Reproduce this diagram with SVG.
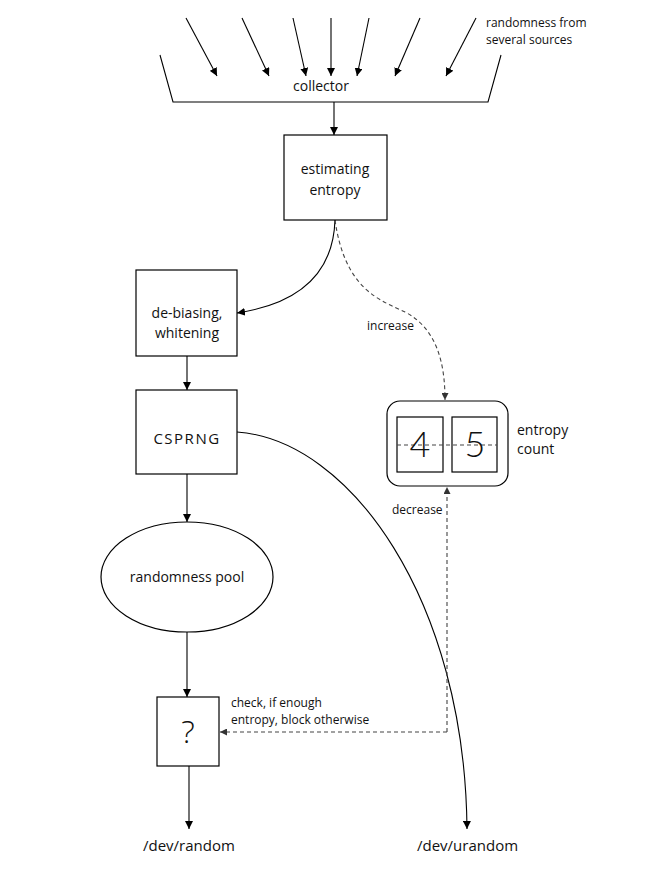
<svg xmlns="http://www.w3.org/2000/svg" width="660" height="880" viewBox="0 0 660 880">
<defs>
<marker id="ah" viewBox="0 0 10 10" refX="10" refY="5" markerWidth="8" markerHeight="8" markerUnits="userSpaceOnUse" orient="auto">
<path d="M0,0 L10,5 L0,10 z" fill="#000"/>
</marker>
<marker id="ahs" viewBox="0 0 10 10" refX="10" refY="5" markerWidth="7" markerHeight="7" markerUnits="userSpaceOnUse" orient="auto">
<path d="M0,0 L10,5 L0,10 z" fill="#333"/>
</marker>
</defs>
<style>
text{font-family:"Open Sans","DejaVu Sans",sans-serif;fill:#111}
.box{fill:#fff;stroke:#000;stroke-width:1.2}
.ln{fill:none;stroke:#000;stroke-width:1.1}
.dash{fill:none;stroke:#444;stroke-width:1.1;stroke-dasharray:4,3}
.m{font-size:14px}
.s{font-size:12px}
.dig{font-family:Lato,"Open Sans",sans-serif;font-weight:300;font-size:36px}
</style>
<rect width="660" height="880" fill="#fff"/>

<g id="connectors">
<line class="ln" x1="186" y1="18" x2="217" y2="76" marker-end="url(#ah)"/>
<line class="ln" x1="242" y1="18" x2="269" y2="76" marker-end="url(#ah)"/>
<line class="ln" x1="293" y1="18" x2="306" y2="76" marker-end="url(#ah)"/>
<line class="ln" x1="331" y1="18" x2="331" y2="76" marker-end="url(#ah)"/>
<line class="ln" x1="369" y1="18" x2="357" y2="76" marker-end="url(#ah)"/>
<line class="ln" x1="420" y1="18" x2="395" y2="76" marker-end="url(#ah)"/>
<line class="ln" x1="476" y1="18" x2="446" y2="76" marker-end="url(#ah)"/>
<line class="ln" x1="334" y1="102" x2="334" y2="135" marker-end="url(#ah)"/>
<path class="ln" d="M335,220 C333,280 290,305 237,313" marker-end="url(#ah)"/>
<path class="dash" d="M335,220 C345,290 380,300 405,312 C440,330 445,370 445,400" marker-end="url(#ahs)"/>
<line class="ln" x1="187" y1="356" x2="187" y2="390" marker-end="url(#ah)"/>
<line class="ln" x1="187" y1="474" x2="187" y2="522" marker-end="url(#ah)"/>
<line class="ln" x1="187" y1="632" x2="187" y2="697" marker-end="url(#ah)"/>
<line class="ln" x1="189" y1="766" x2="189" y2="829" marker-end="url(#ah)"/>
<path class="ln" d="M237,432 C350,440 465,600 467,829" marker-end="url(#ah)"/>
<path class="dash" d="M447,732 L447,487" marker-end="url(#ahs)"/>
<path class="dash" d="M447,732 L220,732" marker-end="url(#ahs)"/>
</g>

<g id="collector">
<path class="ln" d="M160,55 L173,102 L488,102 L501,55"/>
<text class="m" x="321" y="91" text-anchor="middle">collector</text>
</g>

<g id="sources">
<text class="s" x="486" y="27">randomness from</text>
<text class="s" x="486" y="44">several sources</text>
</g>

<g id="estimating">
<rect class="box" x="284" y="135" width="103" height="85"/>
<text class="m" x="335" y="174" text-anchor="middle">estimating</text>
<text class="m" x="335" y="195" text-anchor="middle">entropy</text>
</g>

<g id="debiasing">
<rect class="box" x="136" y="270" width="101" height="86"/>
<text class="m" x="187" y="318" text-anchor="middle">de-biasing,</text>
<text class="m" x="187" y="338" text-anchor="middle">whitening</text>
</g>

<g id="csprng">
<rect class="box" x="136" y="390" width="101" height="84"/>
<text x="187" y="444" text-anchor="middle" font-size="15" letter-spacing="1.5">CSPRNG</text>
</g>

<g id="pool">
<ellipse class="box" cx="187" cy="577" rx="86" ry="55"/>
<text class="m" x="187" y="582" text-anchor="middle">randomness pool</text>
</g>

<g id="check">
<rect class="box" x="157" y="697" width="62" height="69"/>
<text x="188" y="743" text-anchor="middle" font-size="32" font-family="Lato,sans-serif" font-weight="300">?</text>
<text class="s" x="231" y="707">check, if enough</text>
<text class="s" x="231" y="724">entropy, block otherwise</text>
</g>

<g id="entropycount">
<rect class="box" x="387" y="401" width="121" height="85" rx="13" ry="13"/>
<rect class="box" x="397" y="417" width="46" height="55"/>
<rect class="box" x="452" y="417" width="45" height="55"/>
<line class="dash" x1="397" y1="445" x2="497" y2="445" stroke-width="0.8" stroke-dasharray="4,2"/>
<text class="dig" x="420" y="457" text-anchor="middle">4</text>
<text class="dig" x="475" y="457" text-anchor="middle">5</text>
<text class="m" x="517" y="435">entropy</text>
<text class="m" x="517" y="454">count</text>
</g>

<g id="labels">
<text class="s" x="367" y="330">increase</text>
<text class="s" x="392" y="514">decrease</text>
</g>

<g id="outputs">
<text x="143" y="851" font-size="15">/dev/random</text>
<text x="417" y="851" font-size="15">/dev/urandom</text>
</g>
</svg>
